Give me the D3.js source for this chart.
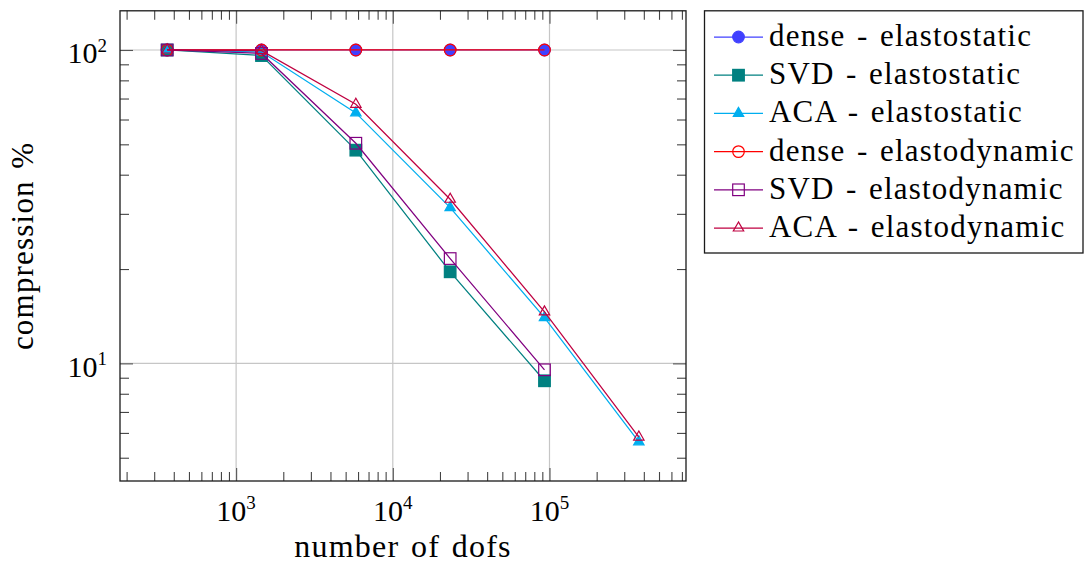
<!DOCTYPE html>
<html>
<head>
<meta charset="utf-8">
<script src="https://cdn.jsdelivr.net/npm/d3@7"></script>
</head>
<body style="margin:0;background:#fff">
<svg id="chart" width="1085" height="567"></svg>
<script>
// number of degrees of freedom for each mesh refinement
const dofs = [363, 1452, 5808, 23232, 92928, 371712];

// compression ratio (%) per method and problem type
const denseStatic   = [100, 100, 100, 100, 100];
const svdStatic     = [100, 96.0, 47.9, 19.6, 8.80];
const acaStatic     = [100, 98.5, 63.0, 31.4, 14.0, 5.62];
const denseDynamic  = [100, 100, 100, 100, 100];
const svdDynamic    = [100, 97.5, 50.4, 21.6, 9.54];
const acaDynamic    = [100, 99.5, 67.1, 33.4, 14.6, 5.82];

const seriesNames = [
  "dense - elastostatic", "SVD - elastostatic", "ACA - elastostatic",
  "dense - elastodynamic", "SVD - elastodynamic", "ACA - elastodynamic"
];

const xTickExponents = [3, 4, 5];
const yTickExponents = [1, 2];
const xLabel = "number of dofs";
const yLabel = "compression %";

// plot styles (colour, mark, filled)
const styles = [
  { color: "#4040ff", mark: "circle",   filled: true  },
  { color: "#008080", mark: "square",   filled: true  },
  { color: "#00aeef", mark: "triangle", filled: true  },
  { color: "#ff0000", mark: "circle",   filled: false },
  { color: "#800080", mark: "square",   filled: false },
  { color: "#bf0040", mark: "triangle", filled: false }
];
const allValues = [denseStatic, svdStatic, acaStatic, denseDynamic, svdDynamic, acaDynamic];
const series = seriesNames.map((name, i) => ({
  name, ...styles[i],
  points: allValues[i].map((v, j) => ({ x: dofs[j], y: v }))
}));

const svg = d3.select("#chart");
const L = 120, R = 686, T = 10.8, B = 481;

// text helpers
function labelText(sel, size) {
  return sel.attr("font-family", "Liberation Serif").attr("font-size", size)
    .style("font-family", "'Liberation Serif'")
    .style("letter-spacing", "1.2px").style("word-spacing", "2.5px").attr("fill", "#000");
}
function tickText(sel) {
  return sel.attr("font-family", "Liberation Serif").attr("font-size", 30)
    .style("font-family", "'Liberation Serif'").attr("fill", "#000");
}

// log-space extents enlarged by 10% on each side
function enlargedLogDomain(vals) {
  const lo = Math.log10(d3.min(vals)), hi = Math.log10(d3.max(vals));
  const pad = (hi - lo) * 0.1;
  return [Math.pow(10, lo - pad), Math.pow(10, hi + pad)];
}
const allY = allValues.flat();
const x = d3.scaleLog().domain(enlargedLogDomain(dofs)).range([L, R]);
const y = d3.scaleLog().domain(enlargedLogDomain(allY)).range([B, T]);

const xMajor = xTickExponents.map(e => Math.pow(10, e));
const yMajor = yTickExponents.map(e => Math.pow(10, e));

function minorTicks(scale) {
  const [d0, d1] = scale.domain();
  const out = [];
  for (let e = Math.floor(Math.log10(d0)); e <= Math.ceil(Math.log10(d1)); e++) {
    for (let m = 2; m <= 9; m++) {
      const v = m * Math.pow(10, e);
      if (v >= d0 && v <= d1) out.push(v);
    }
  }
  return out;
}
const xMinor = minorTicks(x), yMinor = minorTicks(y);

// major grid
const grid = svg.append("g").attr("stroke", "#c6c6c6").attr("stroke-width", 1.2);
grid.selectAll(".gx").data(xMajor).join("line")
  .attr("x1", d => x(d)).attr("x2", d => x(d)).attr("y1", T).attr("y2", B);
grid.selectAll(".gy").data(yMajor).join("line")
  .attr("y1", d => y(d)).attr("y2", d => y(d)).attr("x1", L).attr("x2", R);

// inward ticks on all four sides
function addAxis(axisFn, scale, values, size, tx, ty, color) {
  const g = svg.append("g").attr("transform", `translate(${tx},${ty})`)
    .call(axisFn(scale).tickValues(values).tickSize(-size).tickFormat(""));
  g.select(".domain").remove();
  g.selectAll("line").attr("stroke", color).attr("stroke-width", 1.1);
}
addAxis(d3.axisBottom, x, xMinor, 9, 0, B, "#444");
addAxis(d3.axisTop, x, xMinor, 9, 0, T, "#444");
addAxis(d3.axisLeft, y, yMinor, 9, L, 0, "#444");
addAxis(d3.axisRight, y, yMinor, 9, R, 0, "#444");
addAxis(d3.axisBottom, x, xMajor, 13, 0, B, "#555");
addAxis(d3.axisTop, x, xMajor, 13, 0, T, "#555");
addAxis(d3.axisLeft, y, yMajor, 13, L, 0, "#555");
addAxis(d3.axisRight, y, yMajor, 13, R, 0, "#555");

// tick labels 10^n
xTickExponents.forEach(e => {
  const t = svg.append("text").call(tickText)
    .attr("x", x(Math.pow(10, e))).attr("y", B + 39.7).attr("text-anchor", "middle");
  t.append("tspan").text("10");
  t.append("tspan").attr("font-size", 19).attr("dy", -11.5).text(e);
});
yTickExponents.forEach(e => {
  const t = svg.append("text").call(tickText)
    .attr("x", L - 13).attr("y", y(Math.pow(10, e)) + 13.5).attr("text-anchor", "end");
  t.append("tspan").text("10");
  t.append("tspan").attr("font-size", 19).attr("dy", -11.5).text(e);
});

// axis labels
svg.append("text").call(labelText, 32).attr("text-anchor", "middle")
  .attr("x", (L + R) / 2).attr("y", 557).text(xLabel);
svg.append("text").call(labelText, 31).attr("text-anchor", "middle")
  .attr("transform", `translate(33,${(T + B) / 2}) rotate(-90)`).text(yLabel);

// marker drawing
function drawMark(g, s, cx, cy) {
  const fill = s.filled ? s.color : "none";
  const common = sel => sel.attr("stroke", s.color).attr("stroke-width", 1.2).attr("fill", fill);
  if (s.mark === "circle") {
    g.append("circle").attr("cx", cx).attr("cy", cy).attr("r", 5.8).call(common);
  } else if (s.mark === "square") {
    g.append("rect").attr("x", cx - 5.8).attr("y", cy - 5.8)
      .attr("width", 11.6).attr("height", 11.6).call(common);
  } else {
    const r = 6.0;
    const pts = [[cx, cy - r], [cx - 0.866 * r, cy + 0.5 * r], [cx + 0.866 * r, cy + 0.5 * r]];
    g.append("polygon").attr("points", pts.map(p => p.join(",")).join(" ")).call(common);
  }
}

// plot lines then their marks, in series order
const line = d3.line().x(d => x(d.x)).y(d => y(d.y));
series.forEach(s => {
  const g = svg.append("g");
  g.append("path").attr("d", line(s.points)).attr("fill", "none")
    .attr("stroke", s.color).attr("stroke-width", 1.25);
  s.points.forEach(p => drawMark(g, s, x(p.x), y(p.y)));
});

// frame
svg.append("rect").attr("x", L).attr("y", T).attr("width", R - L).attr("height", B - T)
  .attr("fill", "none").attr("stroke", "#1a1a1a").attr("stroke-width", 1.3);

// legend
const lg = svg.append("g");
lg.append("rect").attr("x", 704.5).attr("y", 10.8).attr("width", 378.5).attr("height", 242.2)
  .attr("fill", "#fff").attr("stroke", "#1a1a1a").attr("stroke-width", 1.3);
series.forEach((s, i) => {
  const cy = 37 + i * 38.2;
  const g = lg.append("g");
  g.append("line").attr("x1", 714).attr("x2", 763).attr("y1", cy).attr("y2", cy)
    .attr("stroke", s.color).attr("stroke-width", 1.25);
  drawMark(g, s, 738.5, cy);
  g.append("text").call(labelText, 31).attr("x", 769).attr("y", cy + 9).text(s.name);
});
</script>
</body>
</html>
